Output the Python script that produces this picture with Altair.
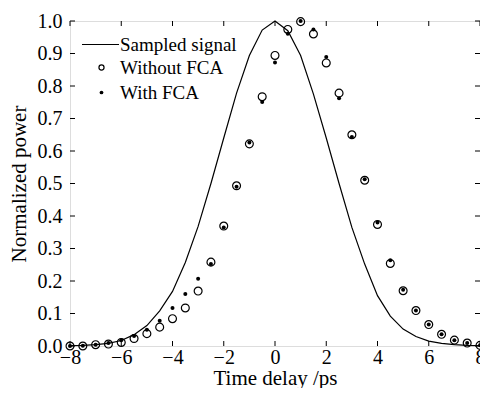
import altair as alt
import pandas as pd

# ---- data ----
time_delay = [-8.0, -7.5, -7.0, -6.5, -6.0, -5.5, -5.0, -4.5, -4.0, -3.5, -3.0,
              -2.5, -2.0, -1.5, -1.0, -0.5, 0.0, 0.5, 1.0, 1.5, 2.0, 2.5, 3.0,
              3.5, 4.0, 4.5, 5.0, 5.5, 6.0, 6.5, 7.0, 7.5, 8.0]
sampled_signal = [0.001, 0.002, 0.004, 0.008, 0.017, 0.035, 0.063, 0.108, 0.168,
                  0.257, 0.368, 0.500, 0.640, 0.778, 0.894, 0.972, 1.000, 0.970,
                  0.894, 0.775, 0.640, 0.500, 0.365, 0.252, 0.155, 0.092, 0.052,
                  0.029, 0.015, 0.008, 0.004, 0.002, 0.001]
without_fca = [0.000, 0.000, 0.004, 0.006, 0.011, 0.023, 0.038, 0.058, 0.084,
               0.117, 0.169, 0.258, 0.369, 0.493, 0.622, 0.767, 0.894, 0.974,
               0.998, 0.960, 0.871, 0.778, 0.650, 0.510, 0.374, 0.254, 0.170,
               0.109, 0.066, 0.036, 0.018, 0.009, 0.002]
with_fca = [0.000, 0.001, 0.004, 0.009, 0.018, 0.031, 0.050, 0.078, 0.117,
            0.160, 0.207, 0.252, 0.365, 0.490, 0.626, 0.751, 0.872, 0.961,
            1.000, 0.974, 0.889, 0.762, 0.643, 0.513, 0.380, 0.264, 0.173,
            0.109, 0.066, 0.036, 0.018, 0.009, 0.002]
x_ticks = [-8, -6, -4, -2, 0, 2, 4, 6, 8]
y_ticks = [0.0, 0.1, 0.2, 0.3, 0.4, 0.5, 0.6, 0.7, 0.8, 0.9, 1.0]
legend_labels = ["Sampled signal", "Without FCA", "With FCA"]

W, H = 410, 325
FONT = "Liberation Serif"
TICK = 5

df = pd.DataFrame({"t": time_delay, "sig": sampled_signal,
                   "wo": without_fca, "w": with_fca})
xt = pd.DataFrame({"v": x_ticks})
yt = pd.DataFrame({"v": y_ticks})

xscale = alt.Scale(domain=[-8, 8], nice=False, zero=False)
yscale = alt.Scale(domain=[0, 1], nice=False, zero=False)

xaxis = alt.Axis(values=x_ticks, format="d", ticks=False, domain=False, grid=False,
                 labelFont=FONT, labelFontSize=20, labelColor="black", labelPadding=1,
                 labelOverlap=False, labelFlush=False,
                 title="Time delay /ps", titleFont=FONT, titleFontSize=21,
                 titleFontWeight="normal", titleColor="black", titlePadding=0)
yaxis = alt.Axis(values=y_ticks, format=".1f", ticks=False, domain=False, grid=False,
                 labelFont=FONT, labelFontSize=20, labelColor="black", labelPadding=8,
                 labelOverlap=False, labelFlush=False,
                 title="Normalized power", titleFont=FONT, titleFontSize=21,
                 titleFontWeight="normal", titleColor="black", titlePadding=8)


def X(field):
    return alt.X(field, scale=xscale, axis=xaxis)


def Y(field):
    return alt.Y(field, scale=yscale, axis=yaxis)


line = alt.Chart(df).mark_line(color="black", strokeWidth=1.2).encode(
    x=X("t:Q"), y=Y("sig:Q"))
circles = alt.Chart(df).mark_point(shape="circle", filled=False, color="black",
                                   strokeWidth=1.2, size=62, opacity=1).encode(
    x=X("t:Q"), y=Y("wo:Q"))
dots = alt.Chart(df).mark_point(shape="circle", filled=True, color="black",
                                size=16, opacity=1).encode(
    x=X("t:Q"), y=Y("w:Q"))

# inward ticks on all four sides
xb = alt.Chart(xt).mark_rule(color="black", strokeWidth=1).encode(
    x=X("v:Q"), y=alt.value(H), y2=alt.value(H - TICK))
xtop = alt.Chart(xt).mark_rule(color="black", strokeWidth=1).encode(
    x=X("v:Q"), y=alt.value(0), y2=alt.value(TICK))
yl = alt.Chart(yt).mark_rule(color="black", strokeWidth=1).encode(
    y=Y("v:Q"), x=alt.value(0), x2=alt.value(TICK))
yr = alt.Chart(yt).mark_rule(color="black", strokeWidth=1).encode(
    y=Y("v:Q"), x=alt.value(W), x2=alt.value(W - TICK))

# legend (inside, top-left)
leg = pd.DataFrame({"label": legend_labels})
leg_line = alt.Chart(leg.iloc[[0]]).mark_rule(color="black", strokeWidth=1.2).encode(
    x=alt.value(12), x2=alt.value(49), y=alt.value(23.5))
leg_circ = alt.Chart(leg.iloc[[1]]).mark_point(shape="circle", filled=False, color="black",
                                               strokeWidth=1.2, size=26, opacity=1).encode(
    x=alt.value(31.5), y=alt.value(46.5))
leg_dot = alt.Chart(leg.iloc[[2]]).mark_point(shape="circle", filled=True, color="black",
                                              size=14, opacity=1).encode(
    x=alt.value(31.5), y=alt.value(71.5))
leg_texts = [
    alt.Chart(leg.iloc[[i]]).mark_text(font=FONT, fontSize=19, align="left",
                                       baseline="middle", color="black").encode(
        text="label:N", x=alt.value(50), y=alt.value(yy))
    for i, yy in enumerate([23.5, 47, 71.5])
]

chart = alt.layer(line, xb, xtop, yl, yr, circles, dots,
                  leg_line, leg_circ, leg_dot, *leg_texts).properties(
    width=W, height=H,
    autosize=alt.AutoSizeParams(type="none"),
    padding={"left": 62, "top": 13, "right": 0, "bottom": 42},
).configure_view(stroke="black", strokeWidth=1.2).configure_axis(
    labelOverlap=False
).configure(background="white", font=FONT)

chart.save("out.html", embed_options={"renderer": "svg", "actions": False})
